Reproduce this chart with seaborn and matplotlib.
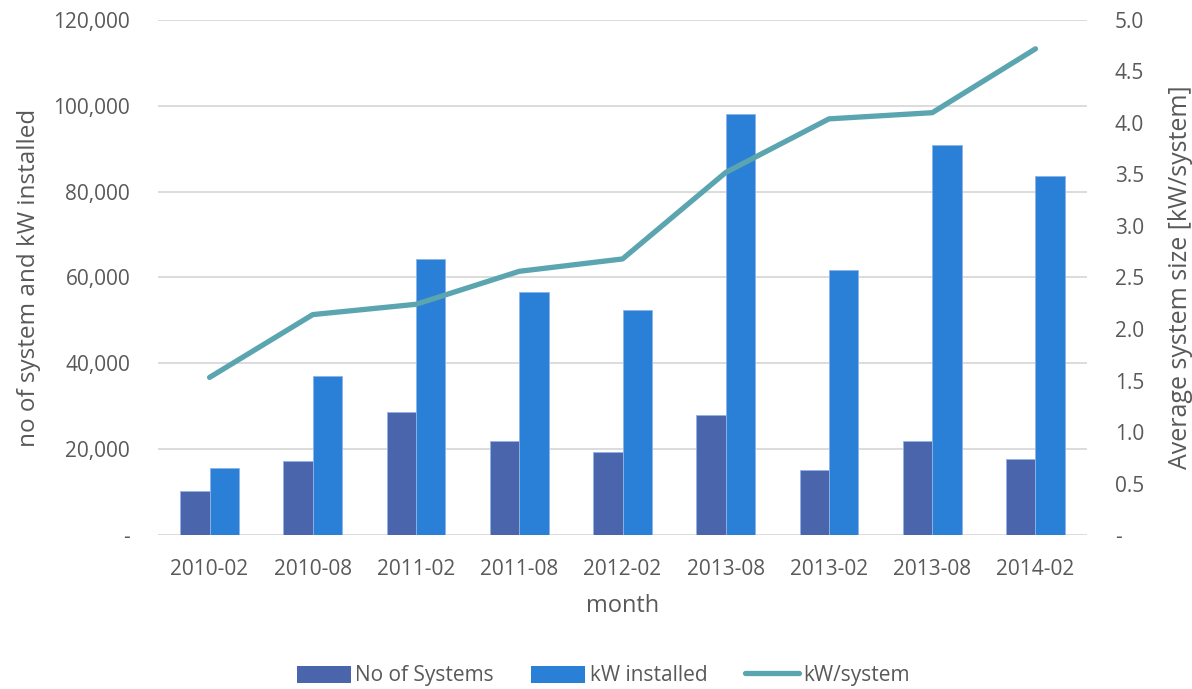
import matplotlib
matplotlib.use("Agg")
import matplotlib.pyplot as plt
import numpy as np
import pandas as pd
import seaborn as sns
from matplotlib.lines import Line2D
from matplotlib.patches import Patch
from matplotlib.ticker import FuncFormatter

months = ["2010-02", "2010-08", "2011-02", "2011-08", "2012-02",
          "2013-08", "2013-02", "2013-08", "2014-02"]
no_of_systems = [10200, 17300, 28600, 21900, 19400, 27900, 15200, 22000, 17700]
kw_installed = [15600, 37100, 64400, 56600, 52400, 98200, 61700, 90900, 83700]
kw_per_system = [1.53, 2.14, 2.24, 2.56, 2.68, 3.52, 4.04, 4.10, 4.72]

c_sys = "#4A65AB"
c_kw = "#2A7FD6"
c_line = "#5BA5B0"
txt = "#595959"
grid = "#D9D9D9"

idx = list(range(len(months)))
df = pd.DataFrame({
    "idx": idx * 2,
    "series": ["No of Systems"] * len(idx) + ["kW installed"] * len(idx),
    "value": no_of_systems + kw_installed,
})
line_df = pd.DataFrame({"idx": idx, "kw": kw_per_system})

sns.set_theme(style="white")
plt.rcParams["font.family"] = ["Open Sans", "DejaVu Sans"]

fig, ax = plt.subplots(figsize=(11.92, 6.89), dpi=100)
fig.subplots_adjust(left=0.1325, right=0.912, top=0.971, bottom=0.2235)

sns.barplot(data=df, x="idx", y="value", hue="series", order=idx,
            palette=[c_sys, c_kw], width=0.57, saturation=1,
            edgecolor="#8FB4E8", linewidth=0.6, legend=False, ax=ax)
ax.set_ylim(0, 120000)
ax.set_yticks(np.arange(0, 120001, 20000))
ax.yaxis.set_major_formatter(FuncFormatter(lambda v, p: "-" if v == 0 else f"{v:,.0f}"))
ax.set_xlim(-0.5, len(months) - 0.5)
ax.set_xticks(idx)
ax.set_xticklabels(months)
ax.grid(axis="y", color=grid, linewidth=1.3)
ax.set_axisbelow(True)
for s in ax.spines.values():
    s.set_visible(False)
ax.tick_params(axis="both", length=0, labelsize=15, colors=txt)
ax.tick_params(axis="x", pad=17)
ax.tick_params(axis="y", pad=20)
ax.set_xlabel("month", fontsize=17, color=txt, labelpad=10)
ax.set_ylabel("no of system and kW installed", fontsize=17.5, color=txt, labelpad=9)

ax2 = ax.twinx()
sns.lineplot(data=line_df, x="idx", y="kw", color=c_line, linewidth=3.8,
             solid_capstyle="round", ax=ax2)
ax2.set_ylim(0, 5)
ax2.set_yticks(np.arange(0, 5.01, 0.5))
ax2.yaxis.set_major_formatter(FuncFormatter(lambda v, p: "-" if v == 0 else f"{v:.1f}"))
for s in ax2.spines.values():
    s.set_visible(False)
ax2.tick_params(axis="y", length=0, labelsize=15, colors=txt, pad=20)
ax2.set_ylabel("Average system size [kW/system]", fontsize=18, color=txt, labelpad=17)
ax2.set_xlabel("")

handles = [Patch(facecolor=c_sys, edgecolor="none"),
           Patch(facecolor=c_kw, edgecolor="none"),
           Line2D([0], [0], color=c_line, linewidth=3.8, solid_capstyle="round")]
leg = fig.legend(handles, ["No of Systems", "kW installed", "kW/system"],
                 loc="center", bbox_to_anchor=(0.506, 0.019), ncol=3,
                 frameon=False, fontsize=15, handlelength=2.6, handleheight=0.9,
                 columnspacing=1.8, handletextpad=0.2)
for t in leg.get_texts():
    t.set_color(txt)

fig.savefig("out.png", dpi=100)
